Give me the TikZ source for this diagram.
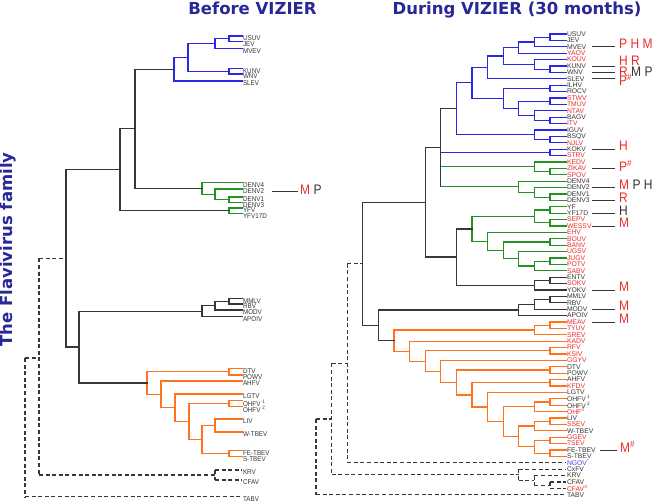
\documentclass[tikz,border=0pt]{standalone}
\usepackage{fontspec}
\setmainfont{Liberation Sans}
\newfontfamily\titlefont{DejaVu Sans}
\usetikzlibrary{calc}
\definecolor{tblack}{RGB}{55,55,55}
\definecolor{tblue}{RGB}{40,40,235}
\definecolor{tgreen}{RGB}{35,145,35}
\definecolor{torange}{RGB}{255,115,30}
\definecolor{tred}{RGB}{235,45,45}
\definecolor{tnavy}{RGB}{40,40,150}
\definecolor{tlblue}{RGB}{70,70,225}
\tikzset{
  brline/.style={line width=1.2pt, line cap=rect},
  kline/.style={brline, draw=tblack},
  uline/.style={brline, draw=tblue},
  gline/.style={brline, draw=tgreen},
  oline/.style={brline, draw=torange},
  dline/.style={line width=1.2pt, draw=tblack, dash pattern=on 4pt off 2.6pt},
  labL/.style={anchor=west, inner sep=0.8pt, font=\fontsize{7}{7}\selectfont, text=tblack},
  labR/.style={anchor=west, inner sep=0.8pt, font=\fontsize{6.8}{6.8}\selectfont},
  annot/.style={anchor=west, inner sep=0pt, font=\fontsize{12}{12}\selectfont, text=tblack},
  annl/.style={line width=0.9pt, draw=tblack},
  ttl/.style={font=\titlefont\bfseries\fontsize{16.5}{16.5}\selectfont, text=tnavy, inner sep=0pt}
}
% internal node: x, top child, bottom child
\newcommand\mk[4]{\path ($(#3)!0.5!(#4)$) coordinate (tmp); \coordinate (#1) at (#2,0 |- tmp);}
\newcommand\vb[4]{\draw[#1] (#2 |- #3) -- (#2 |- #4);}
\newcommand\st[3]{\draw[#1] (#2 |- #3) -- (#3);}
\newcommand\nd[4]{\st{#1}{#2}{#3}\st{#1}{#2}{#4}\vb{#1}{#2}{#3}{#4}}
% right leaf: name, index, text, colour
\newcommand\rl[4]{\coordinate (#1) at (566,{34+6.4*#2}); \node[labR,text=#4] (L#1) at (#1) {#3};}
% left leaf: name, y, text
\newcommand\lf[3]{\coordinate (#1) at (242,#2); \node[labL] (L#1) at (242,{#2+2.5}) {\scalebox{0.9}[1]{#3}};}
\newcommand\an[3]{\draw[annl] (592,0 |- #1) -- (615,0 |- #1); \node[annot, yshift=#2] (n#1) at (619,0 |- #1) {\scalebox{1}[1.15]{#3}};}
\begin{document}
\begin{tikzpicture}[x=1pt,y=-1pt]
\useasboundingbox (0,0) rectangle (656,503);
\fill[white] (0,0) rectangle (656,503);
% titles
\node[ttl, anchor=base] (t1) at (252.5,14.5) {Before VIZIER};
\node[ttl, anchor=base] (t2) at (517,14.5) {During VIZIER (30 months)};
\node[ttl, rotate=90] (t3) at (8,249.5) {The Flavivirus family};

% ================= LEFT TREE =================
\lf{aUSUV}{36}{USUV}
\lf{aJEV}{41.5}{JEV}
\lf{aMVEV}{48.5}{MVEV}
\lf{aKUNV}{68.5}{KUNV}
\lf{aWNV}{74}{WNV}
\lf{aSLEV}{81}{SLEV}
\lf{aDENVd}{182.7}{DENV4}
\lf{aDENVb}{189}{DENV2}
\lf{aDENVa}{197}{DENV1}
\lf{aDENVc}{202.3}{DENV3}
\lf{aYFV}{208}{YFV}
\lf{aYFVD}{213.5}{YFV17D}
\lf{aMMLV}{298.3}{MMLV}
\lf{aRBV}{304}{RBV}
\lf{aMODV}{310}{MODV}
\lf{aAPOIV}{316.7}{APOIV}
\lf{aDTV}{368.3}{DTV}
\lf{aPOWV}{375}{POWV}
\lf{aAHFV}{381}{AHFV}
\lf{aLGTV}{394}{LGTV}
\lf{aOHFa}{400.7}{OHFV \textsuperscript{1}}
\lf{aOHFb}{406.7}{OHFV \textsuperscript{2}}
\lf{aLIV}{419}{LIV}
\lf{aWTBEV}{432}{W-TBEV}
\lf{aFETBEV}{450.7}{FE-TBEV}
\lf{aSTBEV}{456.7}{S-TBEV}
\lf{aKRV}{470}{KRV}
\lf{aCFAV}{480}{CFAV}
\lf{aTABV}{496.7}{TABV}

\mk{aL1}{229}{aUSUV}{aJEV}
\mk{aL2}{215}{aL1}{aMVEV}
\mk{aL3}{229}{aKUNV}{aWNV}
\mk{aL4}{188}{aL2}{aL3}
\mk{aL5}{174}{aL4}{aSLEV}
\mk{aD1}{229}{aDENVa}{aDENVc}
\mk{aD2}{215}{aDENVb}{aD1}
\mk{aD3}{202}{aDENVd}{aD2}
\mk{aL6}{135}{aL5}{aD3}
\mk{aY1}{229}{aYFV}{aYFVD}
\mk{aL7}{120}{aL6}{aY1}
\mk{aM1}{229}{aMMLV}{aRBV}
\mk{aM2}{215}{aM1}{aMODV}
\mk{aM3}{202}{aM2}{aAPOIV}
\mk{aO1}{229}{aDTV}{aPOWV}
\mk{aO2}{229}{aOHFa}{aOHFb}
\mk{aO3}{215}{aLIV}{aWTBEV}
\mk{aO4}{229}{aFETBEV}{aSTBEV}
\mk{aO5}{202}{aO3}{aO4}
\mk{aO6}{189}{aO2}{aO5}
\mk{aO7}{175}{aLGTV}{aO6}
\mk{aO8}{161}{aAHFV}{aO7}
\mk{aO9}{147}{aO1}{aO8}
\mk{aL8}{79}{aM3}{aO9}
\mk{aL9}{66}{aL7}{aL8}
\mk{aK1}{215}{aKRV}{aCFAV}
\coordinate (aL10) at (39,358);
\coordinate (aL11) at (25,427);

\nd{uline}{aL1}{aUSUV}{aJEV}
\nd{uline}{aL2}{aL1}{aMVEV}
\nd{uline}{aL3}{aKUNV}{aWNV}
\nd{uline}{aL4}{aL2}{aL3}
\nd{uline}{aL5}{aL4}{aSLEV}
\nd{gline}{aD1}{aDENVa}{aDENVc}
\nd{gline}{aD2}{aDENVb}{aD1}
\nd{gline}{aD3}{aDENVd}{aD2}
\nd{gline}{aY1}{aYFV}{aYFVD}
\nd{kline}{aL6}{aL5}{aD3}
\nd{kline}{aL7}{aL6}{aY1}
\nd{kline}{aM1}{aMMLV}{aRBV}
\nd{kline}{aM2}{aM1}{aMODV}
\nd{kline}{aM3}{aM2}{aAPOIV}
\nd{oline}{aO1}{aDTV}{aPOWV}
\nd{oline}{aO2}{aOHFa}{aOHFb}
\nd{oline}{aO3}{aLIV}{aWTBEV}
\nd{oline}{aO4}{aFETBEV}{aSTBEV}
\nd{oline}{aO5}{aO3}{aO4}
\nd{oline}{aO6}{aO2}{aO5}
\nd{oline}{aO7}{aLGTV}{aO6}
\nd{oline}{aO8}{aAHFV}{aO7}
\nd{oline}{aO9}{aO1}{aO8}
\nd{kline}{aL8}{aM3}{aO9}
\nd{kline}{aL9}{aL7}{aL8}
\nd{dline}{aK1}{aKRV}{aCFAV}
\nd{dline}{aL10}{aL9}{aK1}
\nd{dline}{aL11}{aL10}{aTABV}

\coordinate (mpA) at (272,191.5);
\coordinate (mpB) at (298,191.5);
\draw[annl] (mpA) -- (mpB);
\node[annot] (mpT) at (300,189.5) {\scalebox{1}[1.15]{\textcolor{tred}{M} P}};

% ================= RIGHT TREE =================
\rl{bUSUV}{0}{USUV}{tblack}
\rl{bJEV}{1}{JEV}{tblack}
\rl{bMVEV}{2}{MVEV}{tblack}
\rl{bYAOV}{3}{YAOV}{tred}
\rl{bKOUV}{4}{KOUV}{tred}
\rl{bKUNV}{5}{KUNV}{tblack}
\rl{bWNV}{6}{WNV}{tblack}
\rl{bSLEV}{7}{SLEV}{tblack}
\rl{bILHV}{8}{ILHV}{tblack}
\rl{bROCV}{9}{ROCV}{tblack}
\rl{bSTWV}{10}{STWV}{tred}
\rl{bTMUV}{11}{TMUV}{tred}
\rl{bNTAV}{12}{NTAV}{tred}
\rl{bBAGV}{13}{BAGV}{tblack}
\rl{bITV}{14}{ITV}{tred}
\rl{bIGUV}{15}{IGUV}{tblack}
\rl{bBSQV}{16}{BSQV}{tblack}
\rl{bNJLV}{17}{NJLV}{tred}
\rl{bKOKV}{18}{KOKV}{tblack}
\rl{bSTRV}{19}{STRV}{tred}
\rl{bKEDV}{20}{KEDV}{tred}
\rl{bZIKAV}{21}{ZIKAV}{tred}
\rl{bSPOV}{22}{SPOV}{tred}
\rl{bDENVd}{23}{DENV4}{tblack}
\rl{bDENVb}{24}{DENV2}{tblack}
\rl{bDENVa}{25}{DENV1}{tblack}
\rl{bDENVc}{26}{DENV3}{tblack}
\rl{bYF}{27}{YF}{tblack}
\rl{bYFD}{28}{YF17D}{tblack}
\rl{bSEPV}{29}{SEPV}{tred}
\rl{bWESSV}{30}{WESSV}{tred}
\rl{bEHV}{31}{EHV}{tred}
\rl{bBOUV}{32}{BOUV}{tred}
\rl{bBANV}{33}{BANV}{tred}
\rl{bUGSV}{34}{UGSV}{tred}
\rl{bJUGV}{35}{JUGV}{tred}
\rl{bPOTV}{36}{POTV}{tred}
\rl{bSABV}{37}{SABV}{tred}
\rl{bENTV}{38}{ENTV}{tblack}
\rl{bSOKV}{39}{SOKV}{tred}
\rl{bYOKV}{40}{YOKV}{tblack}
\rl{bMMLV}{41}{MMLV}{tblack}
\rl{bRBV}{42}{RBV}{tblack}
\rl{bMODV}{43}{MODV}{tblack}
\rl{bAPOIV}{44}{APOIV}{tblack}
\rl{bMEAV}{45}{MEAV}{tred}
\rl{bTYUV}{46}{TYUV}{tred}
\rl{bSREV}{47}{SREV}{tred}
\rl{bKADV}{48}{KADV}{tred}
\rl{bRFV}{49}{RFV}{tred}
\rl{bKSIV}{50}{KSIV}{tred}
\rl{bGGYV}{51}{GGYV}{tred}
\rl{bDTV}{52}{DTV}{tblack}
\rl{bPOWV}{53}{POWV}{tblack}
\rl{bAHFV}{54}{AHFV}{tblack}
\rl{bKFDV}{55}{KFDV}{tred}
\rl{bLGTV}{56}{LGTV}{tblack}
\rl{bOHFa}{57}{OHFV\,\textsuperscript{1}}{tblack}
\rl{bOHFb}{58}{OHFV\,\textsuperscript{2}}{tblack}
\rl{bOHFc}{59}{OHF\textsuperscript{3}}{tred}
\rl{bLIV}{60}{LIV}{tblack}
\rl{bSSEV}{61}{SSEV}{tred}
\rl{bWTBEV}{62}{W-TBEV}{tblack}
\rl{bGGEV}{63}{GGEV}{tred}
\rl{bTSEV}{64}{TSEV}{tred}
\rl{bFETBEV}{65}{FE-TBEV}{tblack}
\rl{bSTBEV}{66}{S-TBEV}{tblack}
\rl{bNGOV}{67}{NGOV\textsuperscript{*}}{tlblue}
\rl{bCxFV}{68}{CxFV}{tblack}
\rl{bKRV}{69}{KRV}{tblack}
\rl{bCFAV}{70}{CFAV}{tblack}
\rl{bCFAVs}{71}{CFAV\textsuperscript{4}}{tred}
\rl{bTABV}{72}{TABV}{tblack}

\mk{bB1}{550}{bUSUV}{bJEV}
\mk{bB2}{534.4}{bB1}{bMVEV}
\mk{bB3}{518.8}{bB2}{bYAOV}
\mk{bB4}{550}{bKUNV}{bWNV}
\mk{bB5}{534.4}{bKOUV}{bB4}
\mk{bB6}{503.2}{bB3}{bB5}
\mk{bB7}{487.6}{bB6}{bSLEV}
\mk{bB8}{550}{bILHV}{bROCV}
\mk{bB9}{550}{bSTWV}{bTMUV}
\mk{bB10}{550}{bBAGV}{bITV}
\mk{bB11}{534.4}{bNTAV}{bB10}
\mk{bB12}{518.8}{bB9}{bB11}
\mk{bB13}{503.2}{bB8}{bB12}
\mk{bB14}{472}{bB7}{bB13}
\mk{bB15}{550}{bBSQV}{bNJLV}
\mk{bB16}{534.4}{bIGUV}{bB15}
\mk{bB17}{456.4}{bB14}{bB16}
\mk{bB18}{550}{bKOKV}{bSTRV}
\mk{bG1}{550}{bZIKAV}{bSPOV}
\mk{bG2}{534.4}{bKEDV}{bG1}
\mk{bG3}{550}{bDENVa}{bDENVc}
\mk{bG4}{534.4}{bDENVb}{bG3}
\mk{bG5}{518.8}{bDENVd}{bG4}
\mk{bP1}{440.8}{bB17}{bG5}
\mk{bG6}{550}{bYF}{bYFD}
\mk{bG7}{550}{bSEPV}{bWESSV}
\mk{bG8}{534.4}{bG6}{bG7}
\mk{bG9}{550}{bBOUV}{bBANV}
\mk{bG10}{550}{bJUGV}{bPOTV}
\mk{bG11}{534.4}{bG10}{bSABV}
\mk{bG12}{518.8}{bUGSV}{bG11}
\mk{bG13}{503.2}{bG9}{bG12}
\mk{bG14}{487.6}{bEHV}{bG13}
\mk{bG15}{472}{bG8}{bG14}
\mk{bE1}{550}{bENTV}{bSOKV}
\mk{bE2}{534.4}{bE1}{bYOKV}
\mk{bK1}{456.4}{bG15}{bE2}
\mk{bK2}{425.2}{bP1}{bK1}
\mk{bM1}{550}{bMMLV}{bRBV}
\mk{bM2}{534.4}{bM1}{bMODV}
\mk{bM3}{518.8}{bM2}{bAPOIV}
\mk{bO1}{550}{bMEAV}{bTYUV}
\mk{bO2}{534.4}{bO1}{bSREV}
\mk{bO3}{550}{bRFV}{bKSIV}
\mk{bO4}{550}{bDTV}{bPOWV}
\mk{bO5}{550}{bAHFV}{bKFDV}
\mk{bO6}{550}{bOHFa}{bOHFb}
\mk{bO7}{534.4}{bO6}{bOHFc}
\mk{bO8}{550}{bLIV}{bSSEV}
\mk{bO9}{534.4}{bO8}{bWTBEV}
\mk{bO10}{550}{bGGEV}{bTSEV}
\mk{bO11}{550}{bFETBEV}{bSTBEV}
\mk{bO12}{534.4}{bO10}{bO11}
\mk{bO13}{518.8}{bO9}{bO12}
\mk{bO14}{503.2}{bO7}{bO13}
\mk{bO15}{487.6}{bLGTV}{bO14}
\mk{bO16}{472}{bO5}{bO15}
\mk{bO17}{456.4}{bO4}{bO16}
\mk{bO18}{440.8}{bGGYV}{bO17}
\mk{bO19}{425.2}{bO3}{bO18}
\mk{bO20}{409.6}{bKADV}{bO19}
\mk{bO21}{394}{bO2}{bO20}
\mk{bK3}{378.4}{bM3}{bO21}
\mk{bK4}{362.8}{bK2}{bK3}
\mk{bC1}{550}{bCFAV}{bCFAVs}
\mk{bC2}{534.4}{bKRV}{bC1}
\mk{bC3}{518.8}{bCxFV}{bC2}
\mk{bR1}{347.2}{bK4}{bNGOV}
\mk{bR2}{331.6}{bR1}{bC3}
\mk{bR3}{316}{bR2}{bTABV}

\nd{uline}{bB1}{bUSUV}{bJEV}
\nd{uline}{bB2}{bB1}{bMVEV}
\nd{uline}{bB3}{bB2}{bYAOV}
\nd{uline}{bB4}{bKUNV}{bWNV}
\nd{uline}{bB5}{bKOUV}{bB4}
\nd{uline}{bB6}{bB3}{bB5}
\nd{uline}{bB7}{bB6}{bSLEV}
\nd{uline}{bB8}{bILHV}{bROCV}
\nd{uline}{bB9}{bSTWV}{bTMUV}
\nd{uline}{bB10}{bBAGV}{bITV}
\nd{uline}{bB11}{bNTAV}{bB10}
\nd{uline}{bB12}{bB9}{bB11}
\nd{uline}{bB13}{bB8}{bB12}
\nd{uline}{bB14}{bB7}{bB13}
\nd{uline}{bB15}{bBSQV}{bNJLV}
\nd{uline}{bB16}{bIGUV}{bB15}
\nd{uline}{bB17}{bB14}{bB16}
\nd{uline}{bB18}{bKOKV}{bSTRV}
\nd{gline}{bG1}{bZIKAV}{bSPOV}
\nd{gline}{bG2}{bKEDV}{bG1}
\nd{gline}{bG3}{bDENVa}{bDENVc}
\nd{gline}{bG4}{bDENVb}{bG3}
\nd{gline}{bG5}{bDENVd}{bG4}
\st{uline}{bP1}{bB18}
\st{gline}{bP1}{bG2}
\st{gline}{bP1}{bG5}
\st{kline}{bP1}{bB17}
\vb{kline}{bP1}{bB17}{bG5}
\nd{gline}{bG6}{bYF}{bYFD}
\nd{gline}{bG7}{bSEPV}{bWESSV}
\nd{gline}{bG8}{bG6}{bG7}
\nd{gline}{bG9}{bBOUV}{bBANV}
\nd{gline}{bG10}{bJUGV}{bPOTV}
\nd{gline}{bG11}{bG10}{bSABV}
\nd{gline}{bG12}{bUGSV}{bG11}
\nd{gline}{bG13}{bG9}{bG12}
\nd{gline}{bG14}{bEHV}{bG13}
\nd{gline}{bG15}{bG8}{bG14}
\nd{kline}{bE1}{bENTV}{bSOKV}
\nd{kline}{bE2}{bE1}{bYOKV}
\nd{kline}{bK1}{bG15}{bE2}
\nd{kline}{bK2}{bP1}{bK1}
\nd{kline}{bM1}{bMMLV}{bRBV}
\nd{kline}{bM2}{bM1}{bMODV}
\nd{kline}{bM3}{bM2}{bAPOIV}
\nd{oline}{bO1}{bMEAV}{bTYUV}
\nd{oline}{bO2}{bO1}{bSREV}
\nd{oline}{bO3}{bRFV}{bKSIV}
\nd{oline}{bO4}{bDTV}{bPOWV}
\nd{oline}{bO5}{bAHFV}{bKFDV}
\nd{oline}{bO6}{bOHFa}{bOHFb}
\nd{oline}{bO7}{bO6}{bOHFc}
\nd{oline}{bO8}{bLIV}{bSSEV}
\nd{oline}{bO9}{bO8}{bWTBEV}
\nd{oline}{bO10}{bGGEV}{bTSEV}
\nd{oline}{bO11}{bFETBEV}{bSTBEV}
\nd{oline}{bO12}{bO10}{bO11}
\nd{oline}{bO13}{bO9}{bO12}
\nd{oline}{bO14}{bO7}{bO13}
\nd{oline}{bO15}{bLGTV}{bO14}
\nd{oline}{bO16}{bO5}{bO15}
\nd{oline}{bO17}{bO4}{bO16}
\nd{oline}{bO18}{bGGYV}{bO17}
\nd{oline}{bO19}{bO3}{bO18}
\nd{oline}{bO20}{bKADV}{bO19}
\nd{oline}{bO21}{bO2}{bO20}
\nd{kline}{bK3}{bM3}{bO21}
\nd{kline}{bK4}{bK2}{bK3}
\nd{dline}{bC1}{bCFAV}{bCFAVs}
\nd{dline}{bC2}{bKRV}{bC1}
\nd{dline}{bC3}{bCxFV}{bC2}
\nd{dline}{bR1}{bK4}{bNGOV}
\nd{dline}{bR2}{bR1}{bC3}
\nd{dline}{bR3}{bR2}{bTABV}

% annotations
\an{bMVEV}{3pt}{\textcolor{tred}{P H M}}
\an{bKUNV}{5.5pt}{\textcolor{tred}{H R}}
\an{bWNV}{0.5pt}{\textcolor{tred}{R} M P}
\an{bSLEV}{-1.5pt}{\textcolor{tred}{P\textsuperscript{\#}}}
\an{bKOKV}{3pt}{\textcolor{tred}{H}}
\an{bZIKAV}{3pt}{\textcolor{tred}{P\textsuperscript{\#}}}
\an{bDENVb}{3pt}{\textcolor{tred}{M} P H}
\an{bDENVc}{3pt}{\textcolor{tred}{R}}
\an{bYFD}{2pt}{H}
\an{bWESSV}{3pt}{\textcolor{tred}{M}}
\an{bYOKV}{3pt}{\textcolor{tred}{M}}
\an{bMODV}{3pt}{\textcolor{tred}{M}}
\an{bMEAV}{3pt}{\textcolor{tred}{M}}
\draw[annl] (600,0 |- bFETBEV) -- (617,0 |- bFETBEV);
\node[annot, yshift=3pt] (nFE) at (620,0 |- bFETBEV) {\scalebox{1}[1.15]{\textcolor{tred}{M\textsuperscript{\#}}}};
\end{tikzpicture}
\end{document}
